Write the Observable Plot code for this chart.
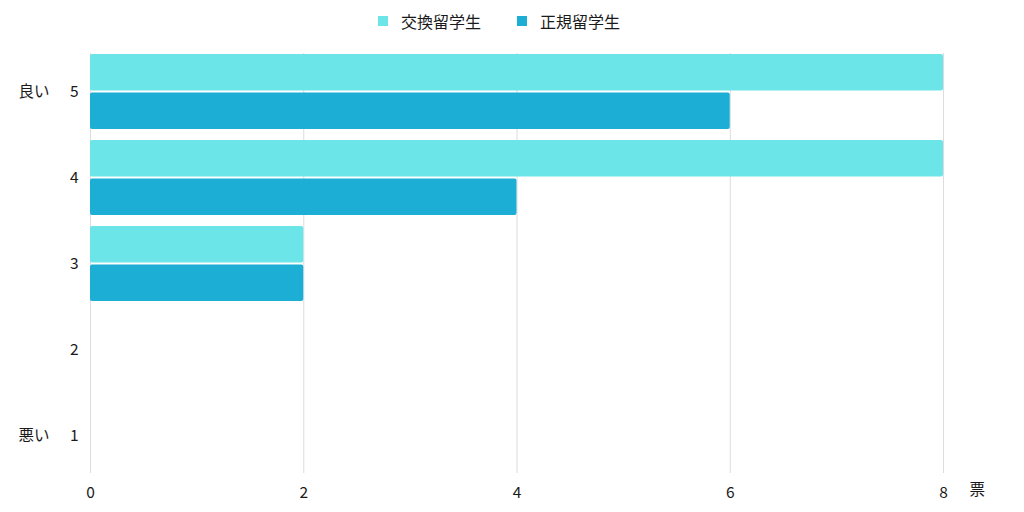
<!DOCTYPE html>
<html>
<head>
<meta charset="utf-8">
<script src="https://cdn.jsdelivr.net/npm/d3@7"></script>
<script src="https://cdn.jsdelivr.net/npm/@observablehq/plot@0.6"></script>
<style>
  body { margin: 0; background: #fff; font-family: "Noto Sans CJK JP", "Noto Sans", sans-serif; }
  #wrap { position: relative; width: 1024px; height: 512px; }
  #legend { position: relative; width: 1024px; height: 40px; }
  .item { position: absolute; top: 0; height: 42px; display: flex; align-items: center; font-size: 16px; color: #1a1a1a; font-weight: 400; }
  .sw { width: 10px; height: 10px; margin-right: 13px; display: inline-block; }
  svg { display: block; }
</style>
</head>
<body>
<div id="wrap">
  <div id="legend"></div>
  <div id="chart"></div>
</div>
<script>
const categories = [5, 4, 3, 2, 1];
const seriesNames = ["交換留学生", "正規留学生"];
const exchangeValues = [8, 8, 2, 0, 0];
const regularValues = [6, 4, 2, 0, 0];
const seriesColors = ["#6be5e8", "#1caed4"];
const xTicks = [0, 2, 4, 6, 8];
const endCategories = [5, 1];
const endLabels = ["良い", "悪い"];
const unitLabel = "票";

const exchange = categories.map((c, i) => ({cat: c, value: exchangeValues[i]}));
const regular = categories.map((c, i) => ({cat: c, value: regularValues[i]}));
const ends = endCategories.map((c, i) => ({cat: c, label: endLabels[i]}));

// legend
const legend = document.getElementById("legend");
const lefts = [378, 517];
seriesNames.forEach((n, i) => {
  const it = document.createElement("div");
  it.className = "item";
  it.style.left = lefts[i] + "px";
  it.innerHTML = `<span class="sw" style="background:${seriesColors[i]}"></span><span>${n}</span>`;
  legend.appendChild(it);
});

const chart = Plot.plot({
  width: 1024,
  height: 472,
  marginLeft: 90,
  marginRight: 81,
  marginTop: 7.5,
  marginBottom: 33,
  style: {fontFamily: '"Noto Sans CJK JP", "Noto Sans", sans-serif', fontSize: "15px", color: "#1a1a1a", background: "#fff"},
  x: {domain: [0, 8], ticks: xTicks, label: null},
  y: {domain: categories, paddingInner: 0.13, paddingOuter: 0.065, label: null},
  marks: [
    Plot.gridX(xTicks, {stroke: "#dcdcdc", strokeOpacity: 1, insetTop: 5.5, insetBottom: 6}),
    Plot.barX(exchange, {x: "value", y: "cat", fill: seriesColors[0], insetBottom: 38.5, rx: 2}),
    Plot.barX(regular, {x: "value", y: "cat", fill: seriesColors[1], insetTop: 38.5, rx: 2}),
    Plot.axisX(xTicks, {tickSize: 0, tickPadding: 7, fontSize: 15.5, label: null}),
    Plot.axisY(categories, {tickSize: 0, tickPadding: 12, fontSize: 15.5, label: null}),
    Plot.text(ends, {y: "cat", text: "label", frameAnchor: "left", dx: -72, textAnchor: "start", fontSize: 15.5, fill: "#1a1a1a"}),
    Plot.text([unitLabel], {text: d => d, frameAnchor: "bottom-right", dx: 26, dy: 15, textAnchor: "start", fontSize: 15.5, fill: "#1a1a1a"})
  ]
});
document.getElementById("chart").appendChild(chart);
</script>
</body>
</html>
